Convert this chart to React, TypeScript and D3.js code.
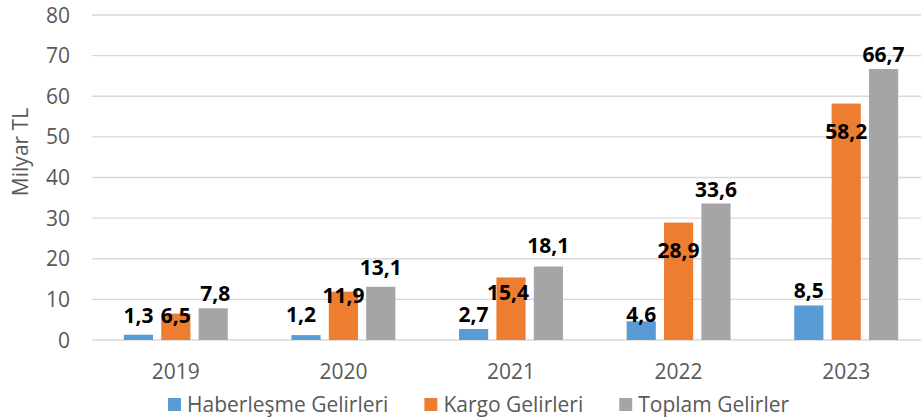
import React, { useEffect, useRef } from 'react';
import * as d3 from 'd3';

const years = ['2019', '2020', '2021', '2022', '2023'];
const seriesNames = ['Haberleşme Gelirleri', 'Kargo Gelirleri', 'Toplam Gelirler'];
const haberlesme = [1.3, 1.2, 2.7, 4.6, 8.5];
const kargo = [6.5, 11.9, 15.4, 28.9, 58.2];
const toplam = [7.8, 13.1, 18.1, 33.6, 66.7];
const yTicks = [0, 10, 20, 30, 40, 50, 60, 70, 80];

const colors = ['#5B9BD5', '#ED7D31', '#A5A5A5'];

// small manual nudges for the value labels, like the hand placed ones in the original
const labelDx = [
  [0, -5, 0, 0, 0],
  [0, 0, -3, 0, 0],
  [2, 0, 0, 0, 0],
];
const labelDy = [
  [-5, -6, 0, 8, 0],
  [16, 18, 30, 42, 42],
  [0, -5, -6, 0, 0],
];

const FONT = '"Open Sans", Lato, sans-serif';

function drawChart(node: SVGSVGElement) {
  const totalWidth = 921;
  const totalHeight = 420;
  const margin = { top: 15, right: -9, bottom: 80, left: 92 };

  const svg = d3.select(node);
  svg.selectAll('*').remove();
  svg.attr('width', totalWidth).attr('height', totalHeight);

  svg.append('rect').attr('width', totalWidth).attr('height', totalHeight).attr('fill', '#fff');

  const series = [haberlesme, kargo, toplam];

  const x0 = d3.scaleBand()
    .domain(years)
    .range([margin.left, totalWidth - margin.right])
    .paddingInner(0.38)
    .paddingOuter(0.19);

  const x1 = d3.scaleBand()
    .domain(seriesNames)
    .range([0, x0.bandwidth()])
    .paddingInner(0.22)
    .paddingOuter(0);

  const y = d3.scaleLinear()
    .domain([0, 80])
    .range([totalHeight - margin.bottom, margin.top]);

  // gridlines
  svg.append('g')
    .selectAll('line')
    .data(yTicks)
    .enter().append('line')
    .attr('x1', margin.left)
    .attr('x2', totalWidth)
    .attr('y1', d => y(d))
    .attr('y2', d => y(d))
    .attr('stroke', '#D9D9D9')
    .attr('stroke-width', 1.3);

  // y tick labels
  svg.append('g')
    .selectAll('text')
    .data(yTicks)
    .enter().append('text')
    .attr('x', 70)
    .attr('y', d => y(d))
    .attr('dy', '0.36em')
    .attr('text-anchor', 'end')
    .style('font-family', FONT)
    .style('font-size', '21px')
    .style('fill', '#595959')
    .text(d => d);

  // y title
  svg.append('text')
    .attr('transform', `translate(28,${152}) rotate(-90)`)
    .attr('text-anchor', 'middle')
    .style('font-family', FONT)
    .style('font-size', '21px')
    .style('fill', '#595959')
    .text('Milyar TL');

  // x labels
  svg.append('g')
    .selectAll('text')
    .data(years)
    .enter().append('text')
    .attr('x', d => (x0(d) as number) + x0.bandwidth() / 2)
    .attr('y', 379)
    .attr('text-anchor', 'middle')
    .style('font-family', FONT)
    .style('font-size', '21px')
    .style('fill', '#595959')
    .text(d => d);

  // bars
  series.forEach((vals, si) => {
    svg.append('g')
      .selectAll('rect')
      .data(vals)
      .enter().append('rect')
      .attr('x', (d, i) => (x0(years[i]) as number) + (x1(seriesNames[si]) as number))
      .attr('y', d => y(d))
      .attr('width', x1.bandwidth())
      .attr('height', d => y(0) - y(d))
      .attr('fill', colors[si]);
  });

  // value labels
  series.forEach((vals, si) => {
    svg.append('g')
      .selectAll('text')
      .data(vals)
      .enter().append('text')
      .attr('x', (d, i) => (x0(years[i]) as number) + (x1(seriesNames[si]) as number) + x1.bandwidth() / 2 + labelDx[si][i])
      .attr('y', (d, i) => y(d) - 7 + labelDy[si][i])
      .attr('text-anchor', 'middle')
      .style('font-family', FONT)
      .style('font-size', '21px')
      .style('font-weight', 'bold')
      .style('fill', '#000')
      .text(d => d.toFixed(1).replace('.', ','));
  });

  // legend
  const legend = svg.append('g');
  let lx = 168;
  seriesNames.forEach((name, si) => {
    legend.append('rect')
      .attr('x', lx)
      .attr('y', 398)
      .attr('width', 13)
      .attr('height', 13)
      .attr('fill', colors[si]);
    const t = legend.append('text')
      .attr('x', lx + 19)
      .attr('y', 412)
      .style('font-family', FONT)
      .style('font-size', '21px')
      .style('fill', '#595959')
      .text(name);
    const w = (t.node() as SVGTextElement).getComputedTextLength();
    lx += 19 + w + 36;
  });
}

const App = () => {
  const ref = useRef<SVGSVGElement>(null);
  useEffect(() => {
    if (ref.current) drawChart(ref.current);
  }, []);
  return (
    <svg ref={ref} style={{ position: 'absolute', left: 0, top: 0, display: 'block' }} />
  );
};

export default App;
